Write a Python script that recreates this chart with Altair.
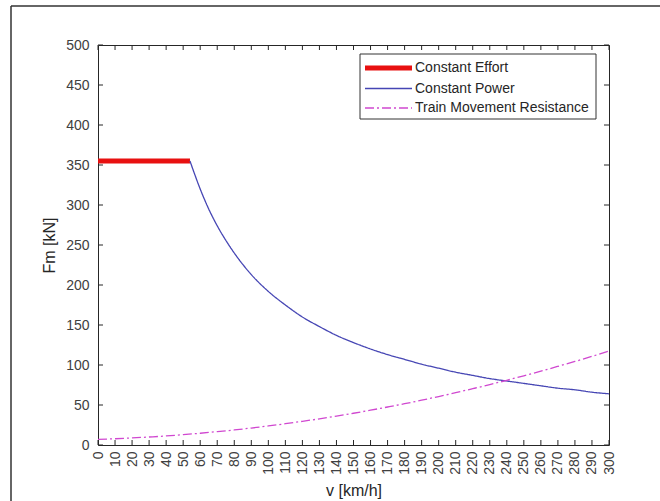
import altair as alt
import pandas as pd

# ---- data ----
series_names = ["Constant Effort", "Constant Power", "Train Movement Resistance"]
series_colors = ["#e81010", "#4646b4", "#d048d0"]
series_dash = [[1, 0], [1, 0], [9, 3, 2, 3]]
series_width = [5, 1.3, 1.3]

v_effort = [0, 54]
f_effort = [355, 355]

v_power = [54, 57, 60, 65, 70, 75, 80, 90, 100, 110, 120, 130, 140, 150, 160,
           170, 180, 190, 200, 210, 220, 230, 240, 250, 260, 270, 280, 290, 300]
f_power = [355, 337, 320, 295, 274, 256, 240, 213, 192, 175, 160, 148, 137, 128, 120,
           113, 107, 101, 96, 91, 87, 83, 80, 77, 74, 71, 69, 66, 64]

v_res = [0, 10, 20, 30, 40, 50, 60, 70, 80, 90, 100, 110, 120, 130, 140, 150,
         160, 170, 180, 190, 200, 210, 220, 230, 240, 250, 260, 270, 280, 290, 300]
f_res = [7.0, 7.8, 8.8, 10.0, 11.3, 12.9, 14.7, 16.7, 18.8, 21.2, 23.8, 26.6, 29.6, 32.7, 36.1, 39.7,
         43.5, 47.5, 51.6, 56.0, 60.6, 65.4, 70.4, 75.5, 80.9, 86.5, 92.3, 98.3, 104.4, 110.8, 117.4]

x_ticks = list(range(0, 301, 10))
y_ticks = list(range(0, 501, 50))

# ---- tables ----
rows = []
for v, f in zip(v_effort, f_effort):
    rows.append({"series": series_names[0], "v": v, "F": f})
for v, f in zip(v_power, f_power):
    rows.append({"series": series_names[1], "v": v, "F": f})
for v, f in zip(v_res, f_res):
    rows.append({"series": series_names[2], "v": v, "F": f})
df = pd.DataFrame(rows)
df_xt = pd.DataFrame({"v": x_ticks})
df_yt = pd.DataFrame({"F": y_ticks})
df_names = pd.DataFrame({"series": series_names})

W, H = 511, 400
FONT = "Liberation Sans"
TXT = "#404040"

xscale = alt.Scale(domain=[0, 300], nice=False, zero=False)
yscale = alt.Scale(domain=[0, 500], nice=False)

xaxis = alt.Axis(values=x_ticks, labelAngle=270, ticks=False, domain=False, grid=False,
                 labelOverlap=False, labelFlush=False,
                 labelFontSize=14, labelFont=FONT, labelColor=TXT, labelPadding=6,
                 title="v [km/h]", titleFont=FONT, titleFontSize=16, titleFontWeight="normal",
                 titleColor="#262626", titleY=45, titleBaseline="middle")
yaxis = alt.Axis(values=y_ticks, ticks=False, domain=False, grid=False,
                 labelOverlap=False, labelFlush=False,
                 labelFontSize=14, labelFont=FONT, labelColor=TXT, labelPadding=9,
                 title="Fm [kN]", titleFont=FONT, titleFontSize=16, titleFontWeight="normal",
                 titleColor="#262626", titleX=-49, titleBaseline="middle")

lines = alt.Chart(df).mark_line(interpolate="monotone", clip=True).encode(
    x=alt.X("v:Q", scale=xscale, axis=xaxis),
    y=alt.Y("F:Q", scale=yscale, axis=yaxis),
    color=alt.Color("series:N", scale=alt.Scale(domain=series_names, range=series_colors), legend=None),
    strokeDash=alt.StrokeDash("series:N", scale=alt.Scale(domain=series_names, range=series_dash),
                              legend=None),
    strokeWidth=alt.StrokeWidth("series:N", scale=alt.Scale(type="ordinal", domain=series_names,
                                                            range=series_width), legend=None),
    order=alt.Order("v:Q"),
)

tick_col = "#262626"
bottom_ticks = alt.Chart(df_xt).mark_rule(color=tick_col, strokeWidth=1).encode(
    x=alt.X("v:Q", scale=xscale, axis=xaxis), y=alt.value(H), y2=alt.value(H - 5))
top_ticks = alt.Chart(df_xt).mark_rule(color=tick_col, strokeWidth=1).encode(
    x=alt.X("v:Q", scale=xscale, axis=xaxis), y=alt.value(0), y2=alt.value(5))
left_ticks = alt.Chart(df_yt).mark_rule(color=tick_col, strokeWidth=1).encode(
    y=alt.Y("F:Q", scale=yscale, axis=yaxis), x=alt.value(0), x2=alt.value(5))
right_ticks = alt.Chart(df_yt).mark_rule(color=tick_col, strokeWidth=1).encode(
    y=alt.Y("F:Q", scale=yscale, axis=yaxis), x=alt.value(W), x2=alt.value(W - 5))

# ---- legend (drawn as marks, MATLAB style) ----
LX0, LX1, LY0, LY1 = 262, 498, 9, 74
row_y = [23, 43.5, 63]
legend_box = alt.Chart(df_names.head(1)).mark_rect(
    fill="white", stroke="#333333", strokeWidth=1).encode(
    x=alt.value(LX0), x2=alt.value(LX1), y=alt.value(LY0), y2=alt.value(LY1))
legend_layers = [legend_box]
for i, name in enumerate(series_names):
    d = df_names[df_names["series"] == name]
    legend_layers.append(
        alt.Chart(d).mark_rule(color=series_colors[i], strokeWidth=series_width[i],
                               strokeDash=series_dash[i]).encode(
            x=alt.value(267), x2=alt.value(314), y=alt.value(row_y[i])))
    legend_layers.append(
        alt.Chart(d).mark_text(align="left", baseline="middle", font=FONT, fontSize=14,
                               color="#262626").encode(
            x=alt.value(317), y=alt.value(row_y[i]), text="series:N"))

# figure border (top and left edges of the exported figure frame)
border_top = alt.Chart(df_names.head(1)).mark_rule(color="#333333", strokeWidth=1.5).encode(
    x=alt.value(-87), x2=alt.value(700), y=alt.value(-39))
border_left = alt.Chart(df_names.head(1)).mark_rule(color="#333333", strokeWidth=1.5).encode(
    x=alt.value(-87), y=alt.value(-39), y2=alt.value(500))

chart = alt.layer(
    lines, bottom_ticks, top_ticks, left_ticks, right_ticks, *legend_layers, border_top, border_left
).properties(
    width=W, height=H,
    autosize=alt.AutoSizeParams(type="none"),
    padding={"left": 98, "top": 45, "right": 51, "bottom": 56},
    background="white",
).configure_view(stroke="#262626", strokeWidth=1)

chart.save("out.html", embed_options={"renderer": "svg", "actions": False})
